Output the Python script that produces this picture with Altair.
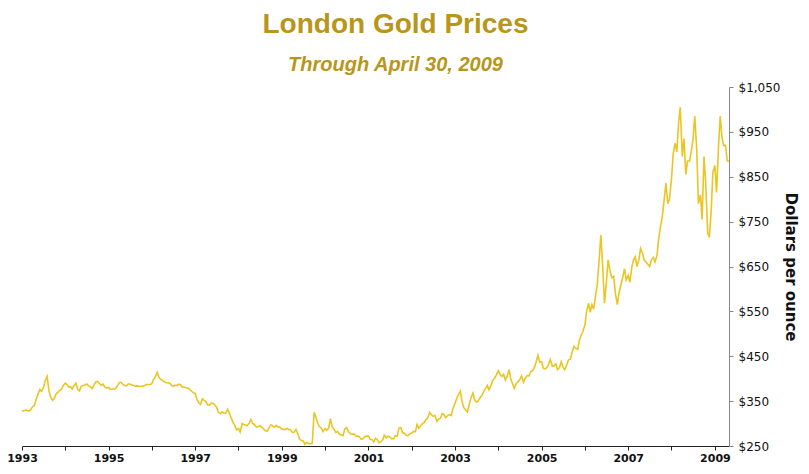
import altair as alt
import pandas as pd

# Semi-monthly London gold prices (1st and 15th of each month), USD per ounce
p1993 = [329, 328, 330, 329, 328, 331, 338, 340, 355, 365, 376, 372, 380, 395, 405, 375, 358, 352, 356, 366, 370, 374, 377, 385]
p1994 = [390, 387, 381, 382, 377, 385, 390, 377, 373, 383, 385, 386, 388, 384, 382, 378, 386, 393, 394, 390, 385, 388, 381, 379]
p1995 = [381, 376, 377, 377, 378, 383, 391, 392, 388, 385, 384, 388, 388, 386, 385, 383, 384, 383, 383, 383, 385, 387, 387, 387]
p1996 = [389, 398, 405, 414, 403, 399, 396, 393, 391, 391, 390, 385, 383, 385, 385, 388, 386, 381, 381, 380, 379, 376, 372, 369]
p1997 = [367, 354, 346, 343, 355, 352, 349, 342, 341, 345, 345, 342, 336, 325, 322, 326, 323, 323, 332, 324, 312, 303, 296, 286]
p1998 = [289, 281, 300, 298, 297, 295, 301, 309, 300, 298, 292, 293, 295, 292, 288, 284, 283, 290, 297, 295, 292, 296, 292, 292]
p1999 = [288, 287, 287, 289, 287, 286, 280, 281, 287, 278, 265, 262, 261, 254, 258, 255, 255, 256, 325, 315, 300, 293, 290, 282]
p2000 = [289, 285, 290, 311, 293, 288, 280, 282, 276, 275, 273, 288, 291, 282, 278, 276, 277, 273, 272, 271, 265, 266, 271, 272]
p2001 = [272, 265, 264, 259, 267, 265, 257, 259, 264, 274, 268, 272, 270, 266, 266, 273, 272, 290, 291, 280, 278, 274, 273, 277]
p2002 = [279, 282, 282, 298, 290, 294, 300, 302, 309, 312, 325, 320, 316, 318, 305, 310, 312, 322, 320, 313, 318, 320, 318, 334]
p2003 = [345, 356, 365, 372, 350, 336, 330, 326, 342, 357, 368, 353, 348, 350, 358, 362, 372, 378, 385, 375, 385, 396, 401, 408]
p2004 = [418, 410, 405, 410, 397, 405, 420, 400, 388, 378, 390, 393, 398, 406, 392, 401, 407, 406, 416, 418, 425, 437, 452, 437]
p2005 = [438, 423, 422, 425, 432, 443, 428, 428, 433, 420, 425, 438, 425, 420, 431, 442, 444, 460, 472, 468, 465, 486, 498, 505]
p2006 = [520, 550, 568, 548, 565, 555, 585, 610, 665, 720, 645, 568, 615, 665, 640, 625, 628, 590, 565, 590, 610, 625, 645, 620]
p2007 = [630, 615, 650, 665, 672, 650, 665, 690, 680, 665, 660, 655, 650, 665, 670, 660, 675, 712, 740, 760, 800, 836, 790, 800]
p2008 = [845, 900, 925, 905, 970, 1005, 895, 935, 855, 885, 885, 905, 935, 985, 910, 790, 810, 755, 895, 840, 725, 715, 775, 860]
p2009 = [875, 815, 920, 985, 940, 920, 920, 885, 885]

years = list(range(1993, 2010))
series = [p1993, p1994, p1995, p1996, p1997, p1998, p1999, p2000, p2001,
          p2002, p2003, p2004, p2005, p2006, p2007, p2008, p2009]

dates, prices = [], []
for y, vals in zip(years, series):
    for i, v in enumerate(vals):
        if y == 2009 and i == 8:
            d = pd.Timestamp(2009, 4, 30)
        else:
            d = pd.Timestamp(y, i // 2 + 1, 1 if i % 2 == 0 else 15)
        dates.append(d.strftime("%Y-%m-%d"))
        prices.append(v)

df = pd.DataFrame({"date": dates, "price": prices})

title_color = "#B8961A"
line_color = "#EBC523"

chart = alt.Chart(df).mark_line(color=line_color, strokeWidth=1.6).encode(
    x=alt.X(
        "date:T",
        scale=alt.Scale(domain=[alt.DateTime(year=1993, month=1, date=1),
                                alt.DateTime(year=2009, month=4, date=30)]),
        axis=alt.Axis(
            title=None,
            values=[alt.DateTime(year=y, month=1, date=1) for y in years],
            labelExpr="year(datum.value) % 2 == 1 ? timeFormat(datum.value, '%Y') : ''",
            grid=False,
            domainColor="#222222",
            tickColor="#222222",
            tickSize=4,
            labelFlush=False,
            labelFont="DejaVu Sans",
            labelFontWeight="bold",
            labelFontSize=11,
            labelColor="#111111",
            labelPadding=2,
        ),
    ),
    y=alt.Y(
        "price:Q",
        scale=alt.Scale(domain=[250, 1050], nice=False, zero=False),
        axis=alt.Axis(
            orient="right",
            title="Dollars per ounce",
            titleAngle=90,
            titleFont="DejaVu Sans",
            titleFontWeight="bold",
            titleFontSize=15,
            titleColor="#111111",
            titlePadding=3,
            values=[250, 350, 450, 550, 650, 750, 850, 950, 1050],
            labelExpr="'$' + format(datum.value, ',')",
            grid=False,
            domainColor="#888888",
            tickColor="#888888",
            tickSize=4,
            labelFlush=False,
            labelFont="DejaVu Sans",
            labelFontSize=12,
            labelColor="#111111",
            labelPadding=5,
        ),
    ),
).properties(
    width=707,
    height=359,
    title=alt.TitleParams(
        text="London Gold Prices",
        subtitle="Through April 30, 2009",
        font="Liberation Sans",
        fontSize=28,
        fontWeight="bold",
        color=title_color,
        subtitleFont="Liberation Sans",
        subtitleFontSize=20,
        subtitleFontWeight="bold",
        subtitleFontStyle="italic",
        subtitleColor=title_color,
        subtitlePadding=16,
        anchor="middle",
        dx=20,
        offset=6,
    ),
    autosize=alt.AutoSizeParams(type="none"),
    padding={"left": 14, "top": 79, "right": 72, "bottom": 20},
).configure_view(stroke=None)

chart.save("out.html", embed_options={"renderer": "svg", "actions": False})
